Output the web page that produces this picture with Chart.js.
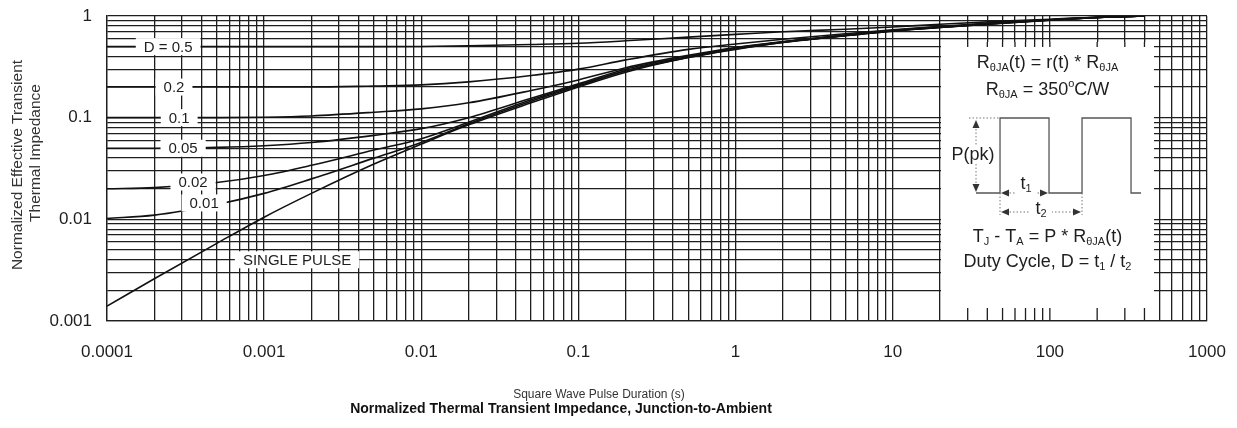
<!DOCTYPE html>
<html>
<head>
<meta charset="utf-8">
<script src="https://cdn.jsdelivr.net/npm/chart.js@4.4.0/dist/chart.umd.min.js"></script>
<style>
html, body { margin: 0; padding: 0; background: #fff; }
#wrap { width: 1237px; height: 428px; }
</style>
</head>
<body>
<div id="wrap"><canvas id="zthChart" width="1237" height="428"></canvas></div>
<script>
// axis decades and their labels
var decadesX = [0.0001, 0.001, 0.01, 0.1, 1, 10, 100, 1000];
var labelsX = ['0.0001', '0.001', '0.01', '0.1', '1', '10', '100', '1000'];
var decadesY = [0.001, 0.01, 0.1, 1];
var labelsY = ['0.001', '0.01', '0.1', '1'];
var minorSteps = [1, 2, 3, 4, 5, 6, 7, 8, 9];

// pulse duration (s), shared by all curves
var pulseTimes = [0.0001, 0.0002, 0.0005, 0.001, 0.002, 0.005, 0.01, 0.02, 0.05, 0.1, 0.2, 0.5, 1, 2, 5, 10, 20, 50, 100, 200, 400];

// normalized r(t) per duty cycle
var dutyHalf   = [0.5, 0.5, 0.5, 0.5, 0.5, 0.5, 0.502, 0.51, 0.525, 0.54, 0.57, 0.62, 0.66, 0.7, 0.74, 0.78, 0.83, 0.89, 0.93, 0.97, 1.0];
var dutyFifth  = [0.2, 0.2, 0.2, 0.2, 0.2, 0.205, 0.21, 0.225, 0.26, 0.3, 0.37, 0.47, 0.53, 0.59, 0.67, 0.73, 0.79, 0.87, 0.92, 0.97, 1.0];
var dutyTenth  = [0.1, 0.1, 0.1, 0.101, 0.104, 0.113, 0.122, 0.14, 0.185, 0.235, 0.31, 0.41, 0.49, 0.56, 0.65, 0.72, 0.78, 0.86, 0.92, 0.97, 1.0];
var duty005    = [0.05, 0.05, 0.051, 0.053, 0.057, 0.067, 0.078, 0.1, 0.155, 0.215, 0.3, 0.4, 0.485, 0.555, 0.645, 0.715, 0.775, 0.855, 0.915, 0.965, 1.0];
var duty002    = [0.02, 0.0205, 0.023, 0.027, 0.034, 0.048, 0.062, 0.09, 0.15, 0.21, 0.29, 0.395, 0.48, 0.555, 0.645, 0.715, 0.775, 0.855, 0.915, 0.965, 1.0];
var duty001    = [0.0102, 0.011, 0.014, 0.018, 0.025, 0.04, 0.057, 0.087, 0.145, 0.205, 0.29, 0.39, 0.475, 0.55, 0.64, 0.71, 0.77, 0.85, 0.91, 0.965, 1.0];
var singlePulse = [0.0014, 0.0026, 0.0058, 0.0105, 0.018, 0.035, 0.055, 0.085, 0.14, 0.2, 0.28, 0.39, 0.47, 0.55, 0.64, 0.71, 0.77, 0.85, 0.91, 0.965, 1.0];

// curve labels (text, anchor in data units)
var curveLabels = [
  { text: 'D = 0.5', x: 0.000245, y: 0.5 },
  { text: '0.2', x: 0.000267, y: 0.2 },
  { text: '0.1', x: 0.000288, y: 0.1 },
  { text: '0.05', x: 0.000305, y: 0.05 },
  { text: '0.02', x: 0.000353, y: 0.0233 },
  { text: '0.01', x: 0.000415, y: 0.0145 },
  { text: 'SINGLE PULSE', x: 0.00162, y: 0.004 }
];
// inset panel corners in data units
var insetBox = { x0: 20, x1: 460, y0: 0.555, y1: 0.001 };

var FONT = '"Liberation Sans", Arial, sans-serif';
var INK = '#1e1e1e';

function gridTicks(decades) {
  var t = [];
  for (var i = 0; i < decades.length; i++) {
    if (i == decades.length - 1) { t.push({ value: decades[i] }); break; }
    for (var j = 0; j < minorSteps.length; j++) {
      t.push({ value: decades[i] * minorSteps[j] });
    }
  }
  return t;
}

function toPoints(series) {
  var pts = [];
  for (var i = 0; i < pulseTimes.length; i++) pts.push({ x: pulseTimes[i], y: series[i] });
  return pts;
}

function curve(series) {
  return {
    data: toPoints(series),
    borderColor: '#111',
    borderWidth: 1.6,
    pointRadius: 0,
    cubicInterpolationMode: 'monotone',
    fill: false
  };
}

// draws text made of runs; run.s = 'sub' or 'sup' for small offset text
function runsWidth(ctx, runs, size) {
  var w = 0;
  runs.forEach(function (r) {
    ctx.font = (r.s ? Math.round(size * 0.6) : size) + 'px ' + FONT;
    w += ctx.measureText(r.t).width;
  });
  return w;
}
function drawRuns(ctx, runs, cx, cy, size) {
  var x = cx - runsWidth(ctx, runs, size) / 2;
  ctx.textAlign = 'left';
  ctx.textBaseline = 'middle';
  runs.forEach(function (r) {
    var sz = r.s ? Math.round(size * 0.6) : size;
    ctx.font = sz + 'px ' + FONT;
    var dy = r.s == 'sub' ? size * 0.3 : (r.s == 'sup' ? -size * 0.35 : 0);
    ctx.fillText(r.t, x, cy + dy);
    x += ctx.measureText(r.t).width;
  });
}

function arrowHead(ctx, x, y, dir) {
  ctx.beginPath();
  if (dir == 'l') { ctx.moveTo(x, y); ctx.lineTo(x + 8, y - 3.5); ctx.lineTo(x + 8, y + 3.5); }
  if (dir == 'r') { ctx.moveTo(x, y); ctx.lineTo(x - 8, y - 3.5); ctx.lineTo(x - 8, y + 3.5); }
  if (dir == 'u') { ctx.moveTo(x, y); ctx.lineTo(x - 3.5, y + 8); ctx.lineTo(x + 3.5, y + 8); }
  if (dir == 'd') { ctx.moveTo(x, y); ctx.lineTo(x - 3.5, y - 8); ctx.lineTo(x + 3.5, y - 8); }
  ctx.closePath();
  ctx.fill();
}

var annotate = {
  id: 'annotate',
  afterDatasetsDraw: function (chart) {
    var ctx = chart.ctx;
    var xs = chart.scales.x, ys = chart.scales.y;
    ctx.save();

    // white boxes with curve names
    ctx.font = '15px ' + FONT;
    curveLabels.forEach(function (l) {
      var px = xs.getPixelForValue(l.x), py = ys.getPixelForValue(l.y);
      var w = ctx.measureText(l.text).width + 16;
      ctx.fillStyle = '#fff';
      ctx.fillRect(px - w / 2, py - 8.5, w, 17);
      ctx.fillStyle = INK;
      ctx.textAlign = 'center';
      ctx.textBaseline = 'middle';
      ctx.fillText(l.text, px, py + 1);
    });

    // inset panel, with short grid stubs left at its top and bottom
    var bx0 = xs.getPixelForValue(insetBox.x0) + 1, bx1 = xs.getPixelForValue(insetBox.x1);
    var by0 = ys.getPixelForValue(insetBox.y0), by1 = ys.getPixelForValue(insetBox.y1) - 1;
    ctx.fillStyle = '#fff';
    ctx.fillRect(bx0, by0, bx1 - bx0, by1 - by0);
    ctx.strokeStyle = INK;
    ctx.lineWidth = 1.3;
    ctx.beginPath();
    xs.ticks.forEach(function (t) {
      var px = xs.getPixelForValue(t.value);
      if (px > bx0 + 2 && px < bx1) {
        ctx.moveTo(px, by0); ctx.lineTo(px, by0 + 5);
        ctx.moveTo(px, by1 - 12); ctx.lineTo(px, by1);
      }
    });
    ctx.stroke();

    var cx = (bx0 + bx1) / 2;
    ctx.fillStyle = INK;
    drawRuns(ctx, [{ t: 'R' }, { t: '\u03b8JA', s: 'sub' }, { t: '(t) = r(t) * R' }, { t: '\u03b8JA', s: 'sub' }], cx, by0 + 21, 18);
    drawRuns(ctx, [{ t: 'R' }, { t: '\u03b8JA', s: 'sub' }, { t: ' = 350' }, { t: 'o', s: 'sup' }, { t: 'C/W' }], cx, by0 + 48, 18);
    drawRuns(ctx, [{ t: 'T' }, { t: 'J', s: 'sub' }, { t: ' - T' }, { t: 'A', s: 'sub' }, { t: ' = P * R' }, { t: '\u03b8JA', s: 'sub' }, { t: '(t)' }], cx, by0 + 195, 18);
    drawRuns(ctx, [{ t: 'Duty Cycle, D = t' }, { t: '1', s: 'sub' }, { t: ' / t' }, { t: '2', s: 'sub' }], cx, by0 + 220, 18);

    // pulse train sketch
    var top = by0 + 76, base = by0 + 151;
    var r1 = bx0 + 59, f1 = bx0 + 108, r2 = bx0 + 141, f2 = bx0 + 190;
    ctx.strokeStyle = '#555';
    ctx.lineWidth = 1.3;
    ctx.beginPath();
    ctx.moveTo(bx0 + 35, base); ctx.lineTo(r1, base); ctx.lineTo(r1, top); ctx.lineTo(f1, top);
    ctx.lineTo(f1, base); ctx.lineTo(r2, base); ctx.lineTo(r2, top); ctx.lineTo(f2, top);
    ctx.lineTo(f2, base); ctx.lineTo(bx0 + 200, base);
    ctx.stroke();

    ctx.setLineDash([1.5, 2]);
    ctx.lineWidth = 1;
    ctx.strokeStyle = '#777';
    ctx.beginPath();
    ctx.moveTo(bx0 + 28, top); ctx.lineTo(r1, top);
    ctx.moveTo(bx0 + 35, top + 4); ctx.lineTo(bx0 + 35, base - 4);
    ctx.moveTo(r1, base); ctx.lineTo(r1, base + 22);
    ctx.moveTo(r2, base); ctx.lineTo(r2, base + 22);
    ctx.moveTo(r1 + 6, base + 19); ctx.lineTo(r2 - 6, base + 19);
    ctx.moveTo(r1 + 6, base); ctx.lineTo(f1 - 6, base);
    ctx.stroke();
    ctx.setLineDash([]);
    ctx.fillStyle = '#333';
    arrowHead(ctx, bx0 + 35, top + 2, 'u');
    arrowHead(ctx, bx0 + 35, base - 1, 'd');
    arrowHead(ctx, r1 + 1, base, 'l');
    arrowHead(ctx, f1 - 1, base, 'r');
    arrowHead(ctx, r1 + 1, base + 19, 'l');
    arrowHead(ctx, r2 - 1, base + 19, 'r');

    // labels inside the sketch
    ctx.font = '18px ' + FONT;
    var pw = ctx.measureText('P(pk)').width;
    ctx.fillStyle = '#fff';
    ctx.fillRect(bx0 + 32 - pw / 2, top + 27, pw, 19);
    ctx.fillRect(bx0 + 74, base - 16, 22, 18);
    ctx.fillRect(bx0 + 89, base + 9, 22, 19);
    ctx.fillStyle = INK;
    ctx.textAlign = 'center';
    ctx.textBaseline = 'middle';
    ctx.fillText('P(pk)', bx0 + 32, top + 37);
    drawRuns(ctx, [{ t: 't' }, { t: '1', s: 'sub' }], bx0 + 85, base - 9, 18);
    drawRuns(ctx, [{ t: 't' }, { t: '2', s: 'sub' }], bx0 + 100, base + 16, 18);

    // bottom titles
    ctx.fillStyle = '#333';
    ctx.textAlign = 'center';
    ctx.textBaseline = 'middle';
    ctx.font = '12px ' + FONT;
    ctx.fillText('Square Wave Pulse Duration (s)', 599, 395);
    ctx.fillStyle = '#111';
    ctx.font = 'bold 14px ' + FONT;
    ctx.fillText('Normalized Thermal Transient Impedance, Junction-to-Ambient', 561, 409);

    // y axis title, two rotated lines
    ctx.font = '15.5px ' + FONT;
    ctx.fillStyle = '#333';
    ctx.save();
    ctx.translate(18, 165);
    ctx.rotate(-Math.PI / 2);
    ctx.fillText('Normalized Effective Transient', 0, 0);
    ctx.restore();
    ctx.save();
    ctx.translate(36, 153);
    ctx.rotate(-Math.PI / 2);
    ctx.fillText('Thermal Impedance', 0, 0);
    ctx.restore();

    ctx.restore();
  }
};

var ctx = document.getElementById('zthChart');
new Chart(ctx, {
  type: 'line',
  data: {
    datasets: [curve(dutyHalf), curve(dutyFifth), curve(dutyTenth), curve(duty005), curve(duty002), curve(duty001), curve(singlePulse)]
  },
  options: {
    responsive: false,
    animation: false,
    layout: { padding: { left: 0, right: 30, top: 16, bottom: 0 } },
    plugins: { legend: { display: false }, tooltip: { enabled: false } },
    scales: {
      x: {
        type: 'logarithmic',
        min: 0.0001,
        max: 1000,
        afterBuildTicks: function (axis) { axis.ticks = gridTicks(decadesX); },
        afterFit: function (axis) { axis.height = 107; axis.paddingLeft = 0; axis.paddingRight = 0; },
        grid: { color: INK, lineWidth: 1.3, drawTicks: false },
        border: { color: INK, width: 1.3 },
        ticks: {
          autoSkip: false, maxRotation: 0, padding: 21, color: INK,
          font: { family: FONT, size: 17 },
          callback: function (v) { var k = decadesX.indexOf(v); return k < 0 ? '' : labelsX[k]; }
        }
      },
      y: {
        type: 'logarithmic',
        min: 0.001,
        max: 1,
        afterBuildTicks: function (axis) { axis.ticks = gridTicks(decadesY); },
        afterFit: function (axis) { axis.width = 107; axis.paddingTop = 0; axis.paddingBottom = 0; },
        grid: { color: INK, lineWidth: 1.3, drawTicks: false },
        border: { color: INK, width: 1.3 },
        ticks: {
          autoSkip: false, padding: 15, color: INK,
          font: { family: FONT, size: 17 },
          callback: function (v) { var k = decadesY.indexOf(v); return k < 0 ? '' : labelsY[k]; }
        }
      }
    }
  },
  plugins: [annotate]
});
</script>
</body>
</html>
